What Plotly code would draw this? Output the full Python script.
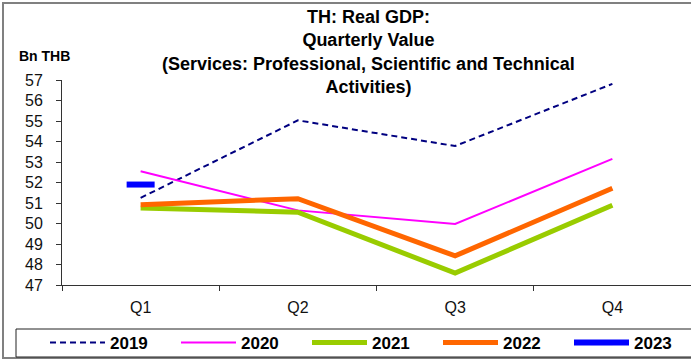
import plotly.graph_objects as go

quarters = ["Q1", "Q2", "Q3", "Q4"]
v2019 = [51.25, 55.03, 53.78, 56.81]
v2020 = [52.55, 50.64, 49.98, 53.15]
v2021 = [50.76, 50.55, 47.58, 50.89]
v2022 = [50.92, 51.21, 48.42, 51.72]
v2023 = [51.90]
y_ticks = list(range(47, 58))

W, H = 691, 359
ML, MR, MT, MB = 62, 0, 80, 74

fig = go.Figure()
fig.add_trace(go.Scatter(x=quarters, y=v2019, name="2019", mode="lines",
                         line=dict(color="#000080", width=2, dash="6px,4px")))
fig.add_trace(go.Scatter(x=quarters, y=v2020, name="2020", mode="lines",
                         line=dict(color="#FF00FF", width=2)))
fig.add_trace(go.Scatter(x=quarters, y=v2021, name="2021", mode="lines",
                         line=dict(color="#99CC00", width=5)))
fig.add_trace(go.Scatter(x=quarters, y=v2022, name="2022", mode="lines",
                         line=dict(color="#FF6600", width=5)))
fig.add_trace(go.Scatter(x=quarters[:len(v2023)], y=v2023, name="2023", mode="lines+markers",
                         line=dict(color="#0000FF", width=6),
                         marker=dict(symbol="line-ew", size=20,
                                     line=dict(color="#0000FF", width=6))))

pw = W - ML - MR
ph = H - MT - MB
def px_x(p):
    return (p - ML) / pw
def px_y(p):
    return (H - MB - p) / ph

fig.update_layout(
    width=W, height=H,
    margin=dict(l=ML, r=MR, t=MT, b=MB, pad=0, autoexpand=False),
    paper_bgcolor="white", plot_bgcolor="white",
    font=dict(family="Liberation Sans, Arial, sans-serif", color="#000"),
    showlegend=True,
    legend=dict(
        orientation="h", x=px_x(45), xanchor="left", xref="paper",
        y=px_y(343), yanchor="middle", yref="paper",
        font=dict(size=17, color="#000", weight="bold"),
        itemwidth=55, entrywidth=61, entrywidthmode="pixels",
        bgcolor="rgba(0,0,0,0)", borderwidth=0, traceorder="normal",
    ),
    xaxis=dict(
        type="category", categoryorder="array", categoryarray=quarters,
        range=[-0.5, 3.5], showline=True, linecolor="#333", linewidth=1,
        ticks="outside", tickson="boundaries", ticklen=5, tickcolor="#333",
        showgrid=False, zeroline=False, automargin=False,
        tickfont=dict(size=16, color="#111"), ticklabelstandoff=8,
    ),
    yaxis=dict(
        range=[47, 57], tickvals=y_ticks, showline=True, linecolor="#333", linewidth=1,
        ticks="outside", ticklen=5, tickcolor="#333", showgrid=False, zeroline=False,
        automargin=False,
        tickfont=dict(size=16, color="#111"), ticklabelstandoff=10,
    ),
    annotations=[
        dict(
            text="<b>TH: Real GDP:<br>Quarterly Value<br>(Services: Professional, Scientific and Technical<br>Activities)</b>",
            xref="paper", yref="paper", x=px_x(368), y=px_y(5),
            xanchor="center", yanchor="top", align="center", showarrow=False,
            font=dict(size=18, color="#000"),
        ),
        dict(
            text="<b>Bn THB</b>", xref="paper", yref="paper", x=px_x(17), y=px_y(56),
            xanchor="left", yanchor="middle", showarrow=False,
            font=dict(size=14, color="#000"),
        ),
    ],
    shapes=[
        dict(type="rect", xref="paper", yref="paper", x0=px_x(3), x1=px_x(720),
             y0=px_y(358), y1=px_y(3), line=dict(color="#808080", width=2), layer="below"),
        dict(type="rect", xref="paper", yref="paper", x0=px_x(16), x1=px_x(720),
             y0=px_y(357), y1=px_y(329), line=dict(color="#222", width=1), layer="below"),
    ],
)

fig.write_html(
    "out.html",
    config={"displayModeBar": False},
    post_script="document.body.style.margin='0';document.body.style.overflow='hidden';",
)
